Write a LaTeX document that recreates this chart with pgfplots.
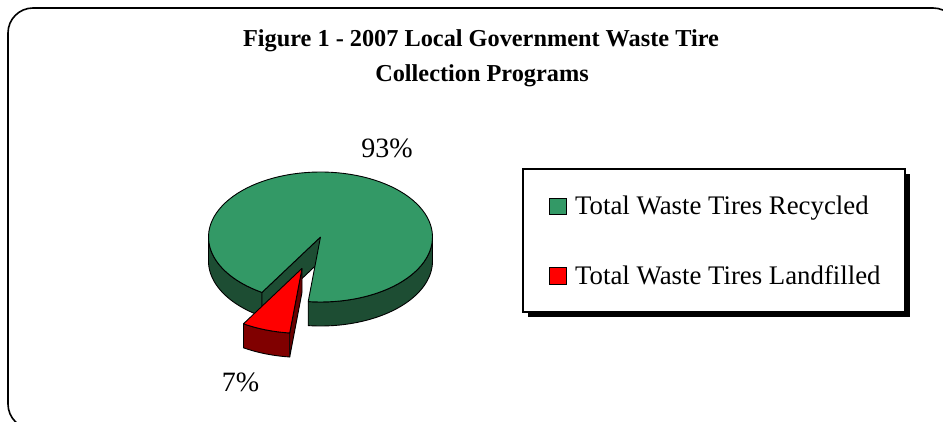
\documentclass[border=0pt]{standalone}
\usepackage{pgfplots}
\pgfplotsset{compat=1.18}
\usepackage{fontspec}
\setmainfont{Liberation Serif}
\definecolor{pgreen}{HTML}{339966}
\definecolor{pgreendk}{HTML}{1D4D33}
\definecolor{pred}{HTML}{FF0000}
\definecolor{preddk}{HTML}{800000}
\definecolor{preddkr}{HTML}{6A0000}

% data (percent)
\def\pRec{93}
\def\pLand{7}
% pie geometry (pixels)
\def\cx{320.5}
\def\cy{237}
\def\rx{112}
\def\ry{65}
\def\dep{24}
\def\startang{238.5}
\def\ex{0.51}
\pgfmathsetmacro\redEnd{\startang+3.6*\pLand}
\pgfmathsetmacro\greenEnd{\redEnd+3.6*\pRec}
\pgfmathsetmacro\midang{(\startang+\redEnd)/2}
\pgfmathsetmacro\ox{\ex*\rx*cos(\midang)}
\pgfmathsetmacro\oy{-\ex*\ry*sin(\midang)}

% outer wall from angle #1 to #2, offset #3,#4, colour #5
\newcommand\wall[5]{%
 \addplot[fill=#5, draw=black, line width=0.9pt, line join=round, variable=\t, samples at={0,1,...,202}]
 ({\cx + #3 + \rx*cos(#1+(#2-#1)*max(0,min(\t,201-\t))/100)},
  {\cy + #4 - \ry*sin(#1+(#2-#1)*max(0,min(\t,201-\t))/100) + \dep*and(\t>100.5,\t<201.5)});
}
% top sector
\newcommand\sector[5]{%
 \addplot[fill=#5, draw=black, line width=0.9pt, line join=round, variable=\t, samples at={0,1,...,102}]
 ({\cx + #3 + and(\t>0.5,\t<101.5)*\rx*cos(#1+(#2-#1)*(\t-1)/100)},
  {\cy + #4 - and(\t>0.5,\t<101.5)*\ry*sin(#1+(#2-#1)*(\t-1)/100)});
}
% radial cut face at angle #1
\newcommand\cutface[4]{%
 \addplot[fill=#4, draw=black, line width=0.9pt, line join=round, variable=\t, samples at={0,1,2,3,4}]
 ({\cx + #2 + or(\t==1,\t==2)*\rx*cos(#1)},
  {\cy + #3 - or(\t==1,\t==2)*\ry*sin(#1) + \dep*or(\t==2,\t==3)});
}

\begin{document}
\begin{tikzpicture}[x=1pt,y=1pt]
\path[use as bounding box] (0,0) rectangle (943,422);
\begin{axis}[at={(0,0)}, anchor=south west, scale only axis,
  width=943pt, height=422pt, xmin=0, xmax=943, ymin=0, ymax=422,
  y dir=reverse, hide axis, clip=false]
% outer frame
\draw[line width=1.6pt, rounded corners=25pt] (axis cs:8,8) rectangle (axis cs:958,429);
% title
\node[anchor=base, inner sep=0, font={\fontsize{24.3}{34}\selectfont\bfseries}] at (axis cs:481,47) {Figure 1 - 2007 Local Government Waste Tire};
\node[anchor=base, inner sep=0, font={\fontsize{24.3}{34}\selectfont\bfseries}] at (axis cs:482,81.5) {Collection Programs};
% green slice
\wall{\redEnd}{360}{0}{0}{pgreendk}
\wall{540}{\greenEnd}{0}{0}{pgreendk}
\cutface{\startang}{0}{0}{pgreendk}
\sector{\redEnd}{\greenEnd}{0}{0}{pgreen}
% red slice (exploded)
\wall{\startang}{\redEnd}{\ox}{\oy}{preddk}
\cutface{\redEnd}{\ox}{\oy}{preddkr}
\sector{\startang}{\redEnd}{\ox}{\oy}{pred}
% data labels
\node[anchor=base, inner sep=0, font={\fontsize{28}{32}\selectfont}] at (axis cs:387,158) {93\%};
\node[anchor=base, inner sep=0, font={\fontsize{28}{32}\selectfont}] at (axis cs:240.5,391.7) {7\%};
% legend
\fill[black] (axis cs:528,174) rectangle (axis cs:910,317);
\draw[line width=1.4pt, fill=white] (axis cs:523,169) rectangle (axis cs:905,312);
\draw[line width=0.9pt, fill=pgreen] (axis cs:549,198) rectangle (axis cs:566,214);
\draw[line width=0.9pt, fill=pred] (axis cs:549,267) rectangle (axis cs:566,284);
\node[anchor=base west, inner sep=0, font={\fontsize{26.8}{30}\selectfont}] at (axis cs:575,215) {Total Waste Tires Recycled};
\node[anchor=base west, inner sep=0, font={\fontsize{26.8}{30}\selectfont}] at (axis cs:575,285) {Total Waste Tires Landfilled};
\end{axis}
\end{tikzpicture}
\end{document}
